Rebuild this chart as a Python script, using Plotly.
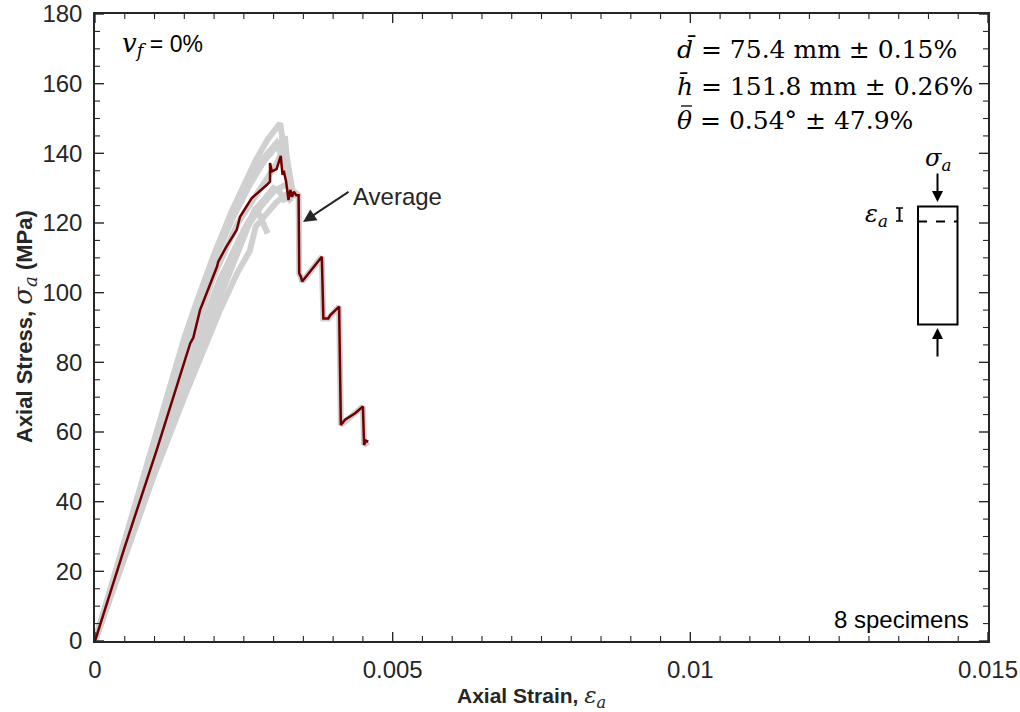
import numpy as np
import plotly.graph_objects as go

# ---------------- data ----------------
# Individual specimens (strain [-], axial stress [MPa])
s1_strain = [0, 0.0005, 0.0010, 0.0015, 0.0017, 0.0020, 0.0023, 0.0025, 0.0027, 0.0029, 0.00305, 0.00311, 0.00315, 0.0032, 0.00325, 0.0033]
s1_stress = [0, 29.5, 59, 87, 97, 111, 123.5, 131, 138, 144, 147.5, 148.6, 144, 139, 133, 128]

s2_strain = [0, 0.0005, 0.0010, 0.0015, 0.0020, 0.0023, 0.0026, 0.00285, 0.0030, 0.0031, 0.00319, 0.00322, 0.00326, 0.0033, 0.00334]
s2_stress = [0, 28.5, 57, 84, 109, 121, 131, 138, 141, 143, 144.8, 139, 134, 130, 127]

s3_strain = [0, 0.0005, 0.0010, 0.0015, 0.0020, 0.0024, 0.0027, 0.0029, 0.00305, 0.00315, 0.0032, 0.00325, 0.0033]
s3_stress = [0, 27.5, 55, 81, 105, 120, 128, 133, 137, 141, 135, 131, 128]

s4_strain = [0, 0.0005, 0.0010, 0.0015, 0.0018, 0.0021, 0.0024, 0.0026, 0.0028, 0.0030, 0.0032, 0.00335, 0.00342,
             0.00343, 0.00348, 0.00381, 0.003836, 0.00392, 0.0041, 0.00413, 0.00437, 0.0045, 0.00452, 0.00459]
s4_stress = [0, 26.5, 52, 77, 91, 104, 114, 120, 125, 129, 131, 129, 128,
             105.6, 103.2, 110.3, 92.6, 92.6, 96, 62, 65.4, 67.3, 56.3, 57.2]

s5_strain = [0, 0.0005, 0.0010, 0.0015, 0.0018, 0.0021, 0.0024, 0.0026, 0.0027, 0.0029, 0.00305, 0.0032, 0.0033]
s5_stress = [0, 24.5, 48, 70, 83, 95, 106, 112, 119, 123, 126, 128, 126]

s6_strain = [0, 0.0005, 0.0010, 0.0015, 0.0018, 0.0021, 0.0024, 0.0026, 0.0027, 0.0028, 0.0029]
s6_stress = [0, 25, 49.5, 73, 86, 99, 111, 120, 124.5, 121, 117]

s7_strain = [0, 0.0005, 0.0010, 0.0015, 0.0020, 0.0023, 0.0025, 0.0027, 0.00285, 0.0030, 0.0031, 0.0032]
s7_stress = [0, 26, 51, 76, 99, 111, 118, 124, 127, 130, 129, 126]

s8_strain = [0, 0.0005, 0.0010, 0.0015, 0.0020, 0.0023, 0.00255, 0.00275, 0.00295, 0.00305, 0.00312, 0.0032]
s8_stress = [0, 28.5, 57.5, 85, 110, 122, 131, 137, 141, 143, 140, 134]

specimens = [(s1_strain, s1_stress), (s2_strain, s2_stress), (s3_strain, s3_stress), (s4_strain, s4_stress),
             (s5_strain, s5_stress), (s6_strain, s6_stress), (s7_strain, s7_stress), (s8_strain, s8_stress)]

# Average curve
avg_strain = [0, 0.0005, 0.001036, 0.0016, 0.00165, 0.001764, 0.00205, 0.00207, 0.0022, 0.00238, 0.002436, 0.00263,
              0.002884, 0.00294, 0.00294, 0.00297, 0.00305, 0.00312, 0.00315, 0.00317, 0.00321, 0.00325, 0.00328,
              0.00331, 0.00334, 0.00338, 0.00342, 0.00343, 0.00346, 0.00348, 0.00381, 0.003836, 0.00392, 0.00395,
              0.0041, 0.00413, 0.0042, 0.00437, 0.0045, 0.00452, 0.00455, 0.00459]
avg_stress = [0, 27, 54.8, 85.5, 87, 95, 107.5, 108.9, 113, 118, 121.8, 127.1,
              130.9, 131.9, 137.2, 134.8, 135.5, 139.3, 133.8, 135, 131.9, 126.6, 129.5,
              127.5, 129, 128, 128, 105.6, 104.5, 103.2, 110.3, 92.6, 92.6, 93.5,
              96, 62, 63.5, 65.4, 67.3, 56.3, 57.5, 57.2]

x_range = [0, 0.015]
y_range = [0, 180]
x_ticks = [0, 0.005, 0.01, 0.015]
x_ticklabels = ["0", "0.005", "0.01", "0.015"]
y_ticks = [0, 20, 40, 60, 80, 100, 120, 140, 160, 180]
x_minor_step = 0.0005
y_minor_step = 5

# ---------------- figure ----------------
W, H = 1020, 712
L, R, T, B = 95, 32, 14, 71
PW, PH = W - L - R, H - T - B


def px(xp):
    return (xp - L) / PW


def py(yp):
    return (H - B - yp) / PH


fig = go.Figure()
for sx, sy in specimens:
    fig.add_trace(go.Scatter(x=sx, y=sy, mode="lines",
                             line=dict(color="#d0d0d0", width=6), showlegend=False, hoverinfo="skip"))
fig.add_trace(go.Scatter(x=avg_strain, y=avg_stress, mode="lines",
                         line=dict(color="#700000", width=2.5), showlegend=False))

axis_col = "#262626"
sans = "Liberation Sans, Arial, sans-serif"
serif = "DejaVu Serif, Liberation Serif, serif"
tickfont = dict(family=sans, size=24, color=axis_col)
common = dict(ticks="", showline=True, linecolor=axis_col, linewidth=1.5, mirror=True,
              showgrid=False, zeroline=False, tickfont=tickfont, automargin=False)
fig.update_xaxes(range=x_range, tickvals=x_ticks, ticktext=x_ticklabels, ticklabelstandoff=6, **common)
fig.update_yaxes(range=y_range, tickvals=y_ticks, ticklabelstandoff=6, **common)

# tick marks (inside, on all four sides), placed at the axis tick values
shapes = []
MAJ, MIN = 9, 5
x_all = np.round(np.arange(x_range[0], x_range[1] + x_minor_step / 2, x_minor_step), 6)
y_all = np.round(np.arange(y_range[0], y_range[1] + y_minor_step / 2, y_minor_step), 6)
for xv in x_all:
    is_major = any(abs(xv - t) < 1e-9 for t in x_ticks)
    ln = (MAJ if is_major else MIN) / PH
    w = 1.4 if is_major else 1.1
    shapes.append(dict(type="line", xref="x", yref="y domain", x0=xv, x1=xv, y0=0, y1=ln,
                       line=dict(color=axis_col, width=w)))
    shapes.append(dict(type="line", xref="x", yref="y domain", x0=xv, x1=xv, y0=1, y1=1 - ln,
                       line=dict(color=axis_col, width=w)))
for yv in y_all:
    is_major = any(abs(yv - t) < 1e-9 for t in y_ticks)
    ln = (MAJ if is_major else MIN) / PW
    w = 1.4 if is_major else 1.1
    shapes.append(dict(type="line", xref="x domain", yref="y", x0=0, x1=ln, y0=yv, y1=yv,
                       line=dict(color=axis_col, width=w)))
    shapes.append(dict(type="line", xref="x domain", yref="y", x0=1, x1=1 - ln, y0=yv, y1=yv,
                       line=dict(color=axis_col, width=w)))

ann = []
# axis titles
ann.append(dict(xref="paper", yref="paper", x=px(531), y=py(697), xanchor="center", yanchor="middle",
                text="<b>Axial Strain,</b> <span style='font-family:DejaVu Serif;font-size:23px'><i>ε<sub>a</sub></i></span>",
                showarrow=False, font=dict(family=sans, size=21, color=axis_col)))
ann.append(dict(xref="paper", yref="paper", x=px(24), y=py(327), xanchor="center", yanchor="middle", textangle=-90,
                text="<b>Axial Stress,</b> <span style='font-family:DejaVu Serif;font-size:26px'><i>σ<sub>a</sub></i></span> <b>(MPa)</b>",
                showarrow=False, font=dict(family=sans, size=22, color=axis_col)))
# v_f
ann.append(dict(xref="paper", yref="paper", x=px(120), y=py(44), xanchor="left", yanchor="middle",
                text="<span style='font-family:DejaVu Serif;font-size:26px'><i>v<sub>f</sub></i></span> = 0%",
                showarrow=False, font=dict(family=sans, size=23, color="#000000")))
# stats
stats = ["<i>d\u0304</i> = 75.4 mm ± 0.15%",
         "<i>h\u0304</i> = 151.8 mm ± 0.26%",
         "<i>θ</i> = 0.54° ± 47.9%"]
for txt, yc in zip(stats, [50, 86, 121]):
    ann.append(dict(xref="paper", yref="paper", x=px(675), y=py(yc), xanchor="left", yanchor="middle",
                    text=txt, showarrow=False, font=dict(family=serif, size=25, color="#000000")))
# 8 specimens
ann.append(dict(xref="paper", yref="paper", x=px(971), y=py(619), xanchor="right", yanchor="middle",
                text="8 specimens", showarrow=False, font=dict(family=sans, size=24, color="#000000")))
# Average label + arrow
ann.append(dict(xref="paper", yref="paper", x=px(351), y=py(196), xanchor="left", yanchor="middle",
                text="Average", showarrow=False, font=dict(family=sans, size=24, color=axis_col)))
ann.append(dict(xref="x", yref="y", x=0.003494, y=120.3, ax=47, ay=-31, text="", showarrow=True,
                arrowhead=2, arrowsize=1.3, arrowwidth=2, arrowcolor=axis_col, standoff=0))
# specimen diagram
ann.append(dict(xref="paper", yref="paper", x=px(937.5), y=py(160), xanchor="center", yanchor="middle",
                text="<i>σ<sub>a</sub></i>", showarrow=False, font=dict(family=serif, size=24, color="#000000")))
ann.append(dict(xref="paper", yref="paper", x=px(890), y=py(215), xanchor="right", yanchor="middle",
                text="<i>ε<sub>a</sub></i>", showarrow=False, font=dict(family=serif, size=24, color="#000000")))
ann.append(dict(xref="paper", yref="paper", x=px(937.5), y=py(202), ax=0, ay=-30, text="", showarrow=True,
                arrowhead=2, arrowsize=1.1, arrowwidth=2, arrowcolor="#000000", standoff=0))
ann.append(dict(xref="paper", yref="paper", x=px(937.5), y=py(328), ax=0, ay=30, text="", showarrow=True,
                arrowhead=2, arrowsize=1.1, arrowwidth=2, arrowcolor="#000000", standoff=0))

shapes += [
    dict(type="rect", xref="paper", yref="paper", x0=px(918), x1=px(957.5), y0=py(206.5), y1=py(324.5),
         line=dict(color="#000000", width=2)),
    dict(type="line", xref="paper", yref="paper", x0=px(918), x1=px(957.5), y0=py(221.5), y1=py(221.5),
         line=dict(color="#000000", width=2, dash="dash")),
    dict(type="line", xref="paper", yref="paper", x0=px(899.5), x1=px(899.5), y0=py(208), y1=py(221),
         line=dict(color="#000000", width=2)),
    dict(type="line", xref="paper", yref="paper", x0=px(896), x1=px(903), y0=py(208), y1=py(208),
         line=dict(color="#000000", width=1.5)),
    dict(type="line", xref="paper", yref="paper", x0=px(896), x1=px(903), y0=py(221), y1=py(221),
         line=dict(color="#000000", width=1.5)),
    # bar over theta
    dict(type="line", xref="paper", yref="paper", x0=px(681), x1=px(692), y0=py(106), y1=py(106),
         line=dict(color="#000000", width=1.3)),
]

fig.update_layout(width=W, height=H, margin=dict(l=L, r=R, t=T, b=B), plot_bgcolor="white",
                  paper_bgcolor="white", annotations=ann, shapes=shapes, showlegend=False)

fig.write_html("out.html")
